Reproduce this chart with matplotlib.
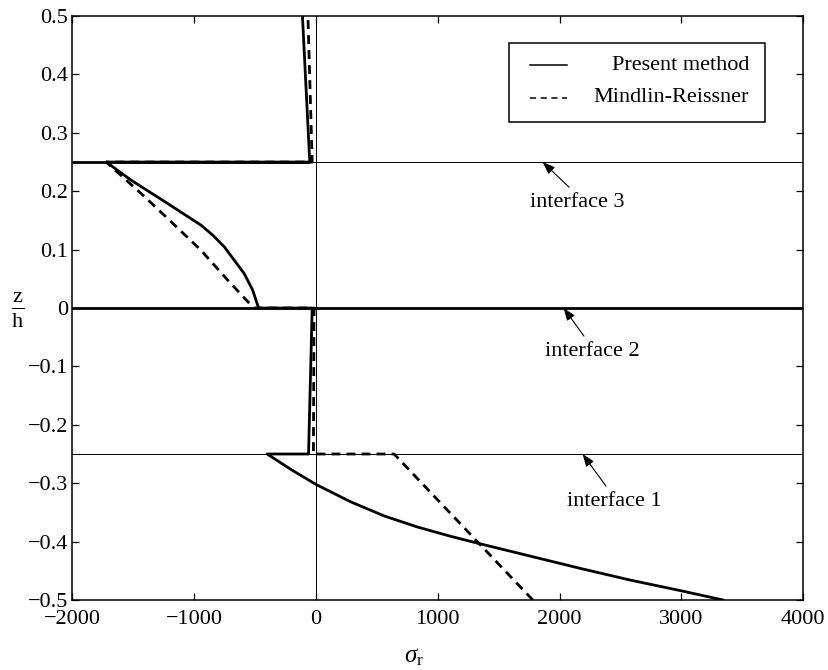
import matplotlib
matplotlib.use("Agg")
import matplotlib.pyplot as plt
from matplotlib.patches import Rectangle
from matplotlib.lines import Line2D
from matplotlib.ticker import FuncFormatter, FixedLocator

plt.rcParams['font.family'] = ['Liberation Serif', 'DejaVu Serif']
plt.rcParams['mathtext.fontset'] = 'custom'
plt.rcParams['mathtext.rm'] = 'Liberation Serif'
plt.rcParams['mathtext.it'] = 'Liberation Serif:italic'

# ---- data (sigma_r, z/h) ----
# Present method, layer by layer
pm_l1_x = [-400, -200, 0, 287, 560, 833, 1107, 1352, 1762, 2172, 2582, 2992, 3340]
pm_l1_z = [-0.25, -0.277, -0.302, -0.332, -0.356, -0.375, -0.391, -0.404, -0.425, -0.446, -0.466, -0.484, -0.5]
pm_l2_x = [-60, -30]
pm_l2_z = [-0.25, 0.0]
pm_l3_x = [-470, -519, -588, -670, -752, -847, -943, -1216, -1516, -1720]
pm_l3_z = [0.0, 0.031, 0.059, 0.082, 0.105, 0.125, 0.142, 0.179, 0.219, 0.25]
pm_l4_x = [-50, -110]
pm_l4_z = [0.25, 0.5]

# Mindlin-Reissner
mr_l1_x = [642, 1780]
mr_l1_z = [-0.25, -0.5]
mr_l2_x = [-20, -15]
mr_l2_z = [-0.25, 0.0]
mr_l3_x = [-510, -724, -943, -1189, -1407, -1720]
mr_l3_z = [0.0, 0.048, 0.099, 0.148, 0.191, 0.25]
mr_l4_x = [-30, -65]
mr_l4_z = [0.25, 0.5]

interfaces = [-0.25, 0.0, 0.25]
interface_labels = ["interface 1", "interface 2", "interface 3"]
ann_head_x = [2189, 2033, 1861]
ann_text_x = [2451, 2270, 2148]
ann_text_z = [-0.332, -0.075, 0.180]

xticks = [-2000, -1000, 0, 1000, 2000, 3000, 4000]
yticks = [-0.5, -0.4, -0.3, -0.2, -0.1, 0, 0.1, 0.2, 0.3, 0.4, 0.5]

fig = plt.figure(figsize=(8.29, 6.70), dpi=100)
ax = fig.add_axes([0.087, 0.1045, 0.882, 0.8715])

LW = 2.0
DASH = (0, (3.2, 2.2))

# reference lines
ax.axvline(0, color='black', lw=0.7)
ax.axhline(0.25, color='black', lw=0.7)
ax.axhline(-0.25, color='black', lw=0.7)
ax.axhline(0.0, color='black', lw=LW)
ax.hlines(0.25, -2000, pm_l4_x[0], color='black', lw=LW)

# present method: bottom -> top with jumps at interfaces
pm_x = pm_l1_x[::-1] + [pm_l1_x[0]] + pm_l2_x + pm_l3_x + pm_l4_x
pm_z = pm_l1_z[::-1] + [pm_l1_z[0]] + pm_l2_z + pm_l3_z + pm_l4_z
ax.plot(pm_x, pm_z, color='black', lw=LW, solid_joinstyle='round')

mr_x = mr_l1_x[::-1] + mr_l2_x + mr_l3_x + mr_l4_x
mr_z = mr_l1_z[::-1] + mr_l2_z + mr_l3_z + mr_l4_z
ax.plot(mr_x, mr_z, color='black', lw=LW, linestyle=DASH)

# annotations
for zi, lab, hx, tx, tz in zip(interfaces, interface_labels, ann_head_x, ann_text_x, ann_text_z):
    ax.annotate("", xy=(hx, zi), xytext=(tx - 70, tz + 0.027),
                arrowprops=dict(arrowstyle='-|>,head_length=0.75,head_width=0.28',
                                color='black', lw=0.8, shrinkA=0, shrinkB=0))
    ax.text(tx, tz, lab, ha='center', va='center', fontsize=16)

ax.set_xlim(-2000, 4000)
ax.set_ylim(-0.5, 0.5)
ax.xaxis.set_major_locator(FixedLocator(xticks))
ax.yaxis.set_major_locator(FixedLocator(yticks))
fmt = FuncFormatter(lambda v, p: ('%g' % v).replace('-', '\u2212'))
ax.xaxis.set_major_formatter(fmt)
ax.yaxis.set_major_formatter(fmt)
ax.tick_params(direction='in', length=5, width=0.9, top=True, right=True,
               labelsize=16)
ax.tick_params(axis='x', pad=7)
ax.tick_params(axis='y', pad=3)
for s in ax.spines.values():
    s.set_linewidth(1.1)

ax.set_xlabel(r'$\sigma_\mathrm{r}$', fontsize=18)
ax.xaxis.set_label_coords(0.468, -0.097)
ax.xaxis.label.set_va('center')
ax.set_ylabel(r'$\mathrm{\frac{z}{h}}$', fontsize=23, rotation=0)
ax.yaxis.set_label_coords(-0.075, 0.497)
ax.yaxis.label.set_va('center')

# legend (MATLAB style, right-aligned text)
ax.add_patch(Rectangle((0.598, 0.818), 0.349, 0.136, transform=ax.transAxes,
                       facecolor='white', edgecolor='black', lw=1.1, zorder=5))
ax.add_line(Line2D([0.6265, 0.677], [0.916, 0.916], transform=ax.transAxes,
                   color='black', lw=1.1, zorder=6))
ax.add_line(Line2D([0.6265, 0.677], [0.860, 0.860], transform=ax.transAxes,
                   color='black', lw=1.1, linestyle=(0, (4, 3)), zorder=6))
ax.text(0.926, 0.916, 'Present method', transform=ax.transAxes, ha='right',
        va='center', fontsize=16, zorder=6)
ax.text(0.926, 0.860, 'Mindlin-Reissner', transform=ax.transAxes, ha='right',
        va='center', fontsize=16, zorder=6)

fig.savefig('out.png', dpi=100)
